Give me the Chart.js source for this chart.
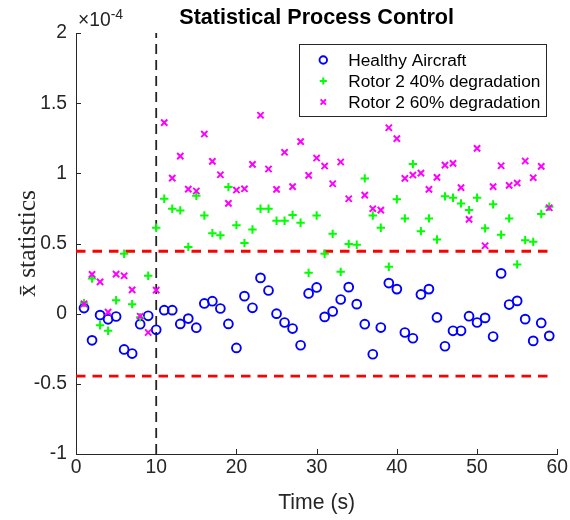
<!DOCTYPE html>
<html><head><meta charset="utf-8">
<script src="https://cdn.jsdelivr.net/npm/chart.js@4.4.0/dist/chart.umd.min.js"></script>
<style>html,body{margin:0;padding:0;background:#fff;}#wrap{width:570px;height:520px;}</style>
</head><body><div id="wrap"><canvas id="c" width="570" height="520"></canvas></div>
<script>
// ---- data (values in units of 1e-4) ----
const time = [1,2,3,4,5,6,7,8,9,10,11,12,13,14,15,16,17,18,19,20,21,22,23,24,25,26,27,28,29,30,
  31,32,33,34,35,36,37,38,39,40,41,42,43,44,45,46,47,48,49,50,51,52,53,54,55,56,57,58,59];
const healthy = [0.04,-0.19,-0.01,-0.04,-0.02,-0.255,-0.284,-0.075,-0.015,-0.115,
  0.025,0.025,-0.073,-0.035,-0.1,0.073,0.089,0.037,-0.073,-0.244,
  0.125,0.042,0.255,0.165,0.0,-0.063,-0.106,-0.225,0.144,0.187,
  -0.023,0.016,0.101,0.189,0.068,-0.075,-0.289,-0.099,0.218,0.175,
  -0.134,-0.175,0.137,0.175,-0.027,-0.232,-0.122,-0.122,-0.018,-0.063,
  -0.03,-0.163,0.287,0.065,0.091,-0.039,-0.194,-0.066,-0.158];
const rotor40 = [0.075,0.251,-0.082,-0.122,0.096,0.427,0.068,-0.025,0.27,0.612,
  0.819,0.748,0.736,0.476,0.84,0.7,0.574,0.558,0.902,0.631,
  0.503,0.6,0.748,0.748,0.662,0.662,0.703,0.648,0.291,0.7,
  0.427,0.569,0.298,0.496,0.491,0.964,0.7,0.612,0.334,0.815,
  0.679,1.066,0.588,0.679,0.529,0.836,0.826,0.786,0.738,0.826,
  0.608,0.779,0.562,0.679,0.351,0.524,0.512,0.71,0.762];
const rotor60 = [0.07,0.28,0.227,0.011,0.282,0.27,0.17,-0.018,-0.134,0.168,
  1.361,0.966,1.123,0.888,0.874,1.28,1.085,0.99,0.786,0.881,
  0.89,1.064,1.414,1.031,0.886,1.15,0.905,1.226,0.986,1.109,
  1.052,0.926,1.081,0.819,null,0.845,0.748,0.738,1.325,1.247,
  0.964,0.988,1.002,0.886,0.971,1.059,1.071,0.898,0.672,1.178,
  0.484,0.905,1.054,0.914,0.931,1.088,0.969,1.05,0.755];
const limitTimes = [0, 59];
const upperLimit = [0.445, 0.445];
const lowerLimit = [-0.445, -0.445];
const faultTimes = [10, 10];
const faultSpan = [-1, 2];
const seriesLabels = ['Healthy Aircraft', 'Rotor 2 40% degradation', 'Rotor 2 60% degradation'];
const xTickValues = [0,10,20,30,40,50,60];
const xTickLabels = ['0','10','20','30','40','50','60'];
const yTickValues = [-1,-0.5,0,0.5,1,1.5,2];
const yTickLabels = ['-1','-0.5','0','0.5','1','1.5','2'];
const yExponent = ['×10', '-4'];
const titleText = 'Statistical Process Control';
const xTitle = 'Time (s)';
const yTitle = 'x\u0304 statistics';

// ---- styling ----
const SANS = "'Liberation Sans', Arial, Helvetica, sans-serif";
const SERIF = "'Liberation Serif', 'Times New Roman', serif";
const AX = '#262626';

const pts = (xs, ys) => xs.map((x, i) => ({x, y: ys[i]}));

const markerStyles = [
  {pointStyle: 'circle', radius: 4.4, color: '#0000ff', borderWidth: 1.9},
  {pointStyle: 'cross', radius: 4.2, color: '#00ff00', borderWidth: 2},
  {pointStyle: 'crossRot', radius: 4.4, color: '#ff00ff', borderWidth: 2}
];

const datasets = [healthy, rotor40, rotor60].map((arr, i) => ({
  label: seriesLabels[i],
  data: pts(time, arr),
  showLine: false,
  pointStyle: markerStyles[i].pointStyle,
  pointRadius: markerStyles[i].radius,
  pointHoverRadius: markerStyles[i].radius,
  pointBorderColor: markerStyles[i].color,
  pointBackgroundColor: 'rgba(0,0,0,0)',
  pointBorderWidth: markerStyles[i].borderWidth,
  order: 3 - i
}));
datasets.push({
  label: 'upper', data: pts(limitTimes, upperLimit), showLine: true, pointRadius: 0,
  borderColor: '#ff0000', borderWidth: 2.8, borderDash: [9.5, 7], order: 10, fill: false
});
datasets.push({
  label: 'lower', data: pts(limitTimes, lowerLimit), showLine: true, pointRadius: 0,
  borderColor: '#ff0000', borderWidth: 2.8, borderDash: [9.5, 7], order: 10, fill: false
});
datasets.push({
  label: 'fault', data: pts(faultTimes, faultSpan), showLine: true, pointRadius: 0,
  borderColor: '#222222', borderWidth: 1.8, borderDash: [10, 6], order: 11, fill: false
});

const inwardTicks = {
  id: 'inwardTicks',
  afterDatasetsDraw(chart) {
    const {ctx, scales: {x, y}, chartArea: ca} = chart;
    ctx.save();
    ctx.strokeStyle = AX; ctx.lineWidth = 1;
    ctx.beginPath();
    x.ticks.forEach(t => {
      const px = Math.round(x.getPixelForValue(t.value)) + 0.5;
      ctx.moveTo(px, ca.bottom); ctx.lineTo(px, ca.bottom - 5);
    });
    y.ticks.forEach(t => {
      const py = Math.round(y.getPixelForValue(t.value)) + 0.5;
      ctx.moveTo(ca.left, py); ctx.lineTo(ca.left + 5, py);
    });
    ctx.stroke();
    // exponent label
    ctx.fillStyle = AX;
    ctx.textBaseline = 'alphabetic';
    ctx.textAlign = 'left';
    ctx.font = '19.3px ' + SANS;
    const ex = ca.left + 2, ey = ca.top - 7;
    ctx.fillText(yExponent[0], ex, ey);
    const w = ctx.measureText(yExponent[0]).width;
    ctx.font = '14px ' + SANS;
    ctx.fillText(yExponent[1], ex + w, ey - 7);
    ctx.restore();
  }
};

const boxLegend = {
  id: 'boxLegend',
  afterDraw(chart) {
    const {ctx, chartArea: ca} = chart;
    const left = ca.right - 258, top = ca.top + 11, w = 247, h = 72;
    ctx.save();
    ctx.fillStyle = '#ffffff';
    ctx.fillRect(left, top, w, h);
    ctx.strokeStyle = AX; ctx.lineWidth = 1;
    ctx.strokeRect(Math.round(left) + 0.5, Math.round(top) + 0.5, w, h);
    ctx.font = '17.3px ' + SANS;
    ctx.textBaseline = 'middle';
    ctx.textAlign = 'left';
    for (let i = 0; i < 3; i++) {
      const cy = top + 16 + i * 21;
      const m = markerStyles[i];
      ctx.strokeStyle = m.color;
      ctx.fillStyle = 'rgba(0,0,0,0)';
      ctx.lineWidth = m.borderWidth;
      Chart.helpers.drawPoint(ctx, {pointStyle: m.pointStyle, radius: m.radius * 0.85, rotation: 0, borderWidth: m.borderWidth}, left + 24, cy);
      ctx.fillStyle = '#000000';
      ctx.fillText(chart.data.datasets[i].label, left + 49, cy + 1);
    }
    ctx.restore();
  }
};

new Chart(document.getElementById('c'), {
  type: 'scatter',
  data: {datasets},
  options: {
    responsive: false,
    animation: false,
    devicePixelRatio: 1,
    layout: {padding: {left: 0, right: 11, top: 0, bottom: 0}},
    plugins: {
      legend: {display: false},
      tooltip: {enabled: false},
      title: {
        display: true, text: titleText, fullSize: false, color: '#000000',
        font: {family: SANS, size: 21.6, weight: 'bold'},
        padding: {top: 5, bottom: 2.1}
      }
    },
    scales: {
      x: {
        type: 'linear', min: 0, max: 60,
        afterBuildTicks: s => { s.ticks = xTickValues.map(v => ({value: v})); },
        afterFit: s => { s.height = 66; },
        ticks: {
          color: AX, font: {family: SANS, size: 19.3}, padding: 2, maxRotation: 0,
          callback: v => xTickLabels[xTickValues.indexOf(v)]
        },
        grid: {display: false, drawTicks: false},
        border: {display: true, color: AX, width: 1},
        title: {display: true, text: xTitle, color: AX, font: {family: SANS, size: 21.2}, padding: {top: 0, bottom: 4.5}}
      },
      y: {
        type: 'linear', min: -1, max: 2,
        afterBuildTicks: s => { s.ticks = yTickValues.map(v => ({value: v})); },
        afterFit: s => { s.width = 76; },
        ticks: {
          color: AX, font: {family: SANS, size: 19.3}, padding: 9,
          callback: v => yTickLabels[yTickValues.indexOf(v)]
        },
        grid: {display: false, drawTicks: false},
        border: {display: true, color: AX, width: 1},
        title: {display: true, text: yTitle, color: AX, font: {family: SERIF, size: 25.5}, padding: {top: 13, bottom: 0}}
      }
    }
  },
  plugins: [inwardTicks, boxLegend]
});
</script></body></html>
